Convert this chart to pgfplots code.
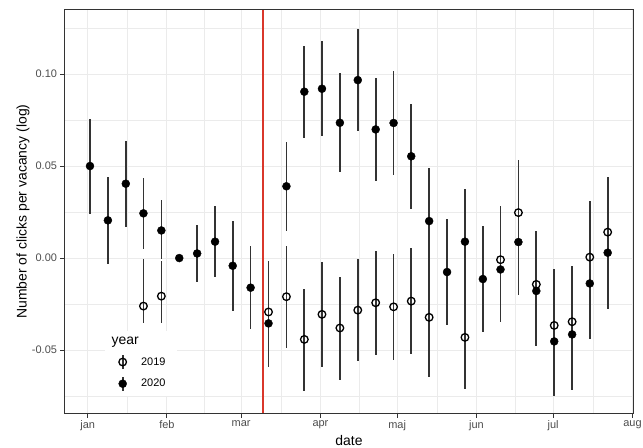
\documentclass[border=0pt]{standalone}
\usepackage{pgfplots}
\pgfplotsset{compat=1.18}
\usepackage{pgfplotstable}
\usepackage{fontspec}
\setmainfont{Liberation Sans}
\definecolor{gridgray}{HTML}{EBEBEB}
\definecolor{tickgray}{HTML}{4D4D4D}
\definecolor{framegray}{HTML}{333333}
\definecolor{vline}{HTML}{D9372B}

% 2020 series: day of year (0 = 1 Jan), estimate, lower, upper
\pgfplotstableread{
d y lo hi
0.9 0.0500 0.0240 0.0755
7.9 0.0205 -0.0031 0.0440
14.9 0.0404 0.0170 0.0636
21.8 0.0243 0.0047 0.0433
28.8 0.0150 -0.0007 0.0313
35.8 0.0000 0.0000 0.0000
42.8 0.0025 -0.0132 0.0179
49.8 0.0089 -0.0105 0.0283
56.7 -0.0042 -0.0286 0.0203
63.7 -0.0161 -0.0388 0.0065
70.7 -0.0355 -0.0591 -0.0120
77.7 0.0390 0.0147 0.0630
84.7 0.0904 0.0654 0.1154
91.6 0.0920 0.0665 0.1178
98.6 0.0735 0.0467 0.1004
105.6 0.0967 0.0690 0.1246
112.6 0.0699 0.0420 0.0978
119.6 0.0734 0.0453 0.1016
126.5 0.0553 0.0266 0.0837
133.5 0.0201 -0.0080 0.0487
140.5 -0.0076 -0.0366 0.0212
147.5 0.0089 -0.0200 0.0373
154.5 -0.0114 -0.0400 0.0174
161.4 -0.0062 -0.0350 0.0220
168.4 0.0087 -0.0200 0.0360
175.4 -0.0179 -0.0476 0.0100
182.4 -0.0453 -0.0752 -0.0160
189.4 -0.0415 -0.0717 -0.0120
196.3 -0.0138 -0.0442 0.0170
203.3 0.0029 -0.0279 0.0330
}\tblB

% 2019 series
\pgfplotstableread{
d y lo hi
21.8 -0.0261 -0.0355 -0.0007
28.8 -0.0207 -0.0355 -0.0016
70.7 -0.0293 -0.0550 -0.0016
77.7 -0.0210 -0.0491 0.0065
84.7 -0.0442 -0.0721 -0.0170
91.6 -0.0306 -0.0591 -0.0020
98.6 -0.0380 -0.0663 -0.0103
105.6 -0.0283 -0.0562 -0.0007
112.6 -0.0243 -0.0527 0.0038
119.6 -0.0265 -0.0554 0.0022
126.5 -0.0234 -0.0522 0.0053
133.5 -0.0322 -0.0644 -0.0040
147.5 -0.0431 -0.0714 -0.0150
161.4 -0.0009 -0.0300 0.0283
168.4 0.0247 -0.0040 0.0531
175.4 -0.0143 -0.0420 0.0145
182.4 -0.0366 -0.0660 -0.0060
189.4 -0.0346 -0.0640 -0.0043
196.3 0.0005 -0.0290 0.0311
203.3 0.0141 -0.0160 0.0440
}\tblA

\begin{document}
\begin{tikzpicture}
\path[use as bounding box] (-65bp,-35bp) rectangle (578bp,413bp);
\begin{axis}[
  at={(0,0)}, anchor=south west,
  scale only axis, width=568bp, height=403bp,
  xmin=-8.87, xmax=213.2, ymin=-0.0842, ymax=0.1348,
  xtick={0,31,60,91,121,152,182,213},
  xticklabels={jan,feb,mar,apr,maj,jun,jul,aug},
  minor xtick={15.5,45.5,75.5,106,136.5,167,197.5},
  ytick={-0.05,0,0.05,0.10},
  yticklabels={-0.05,0.00,0.05,0.10},
  minor ytick={-0.075,-0.025,0.025,0.075,0.125},
  grid=both,
  major grid style={gridgray, line width=1bp},
  minor grid style={gridgray, line width=0.5bp},
  axis line style={framegray, line width=1bp},
  tick align=outside, tick pos=left,
  major tick length=4.5bp, minor tick length=0pt,
  tick style={framegray, line width=1bp},
  every tick label/.append style={font=\fontsize{11}{13}\selectfont, text=tickgray},
  xlabel={date}, ylabel={Number of clicks per vacancy (log)},
  every axis x label/.style={at={(axis description cs:0.5,-0.0811)}, anchor=base, inner sep=0pt, font=\fontsize{14}{16}\selectfont},
  every axis y label/.style={at={(axis description cs:-0.0739,0.5)}, anchor=center, rotate=90, font=\fontsize{14}{16}\selectfont},
  clip=false,
  legend cell align=left,
  legend style={at={(axis description cs:0.0704,0.2035)}, anchor=north west,
    fill=white, draw=none, font=\fontsize{11}{13}\selectfont,
    row sep=6bp, inner xsep=9bp, inner ysep=4bp,
    /tikz/every odd column/.append style={column sep=12bp}},
]
\addplot[vline, line width=1.5bp, forget plot] coordinates {(68.6,-0.0842) (68.6,0.1348)};

\addplot[forget plot, only marks, mark=o, mark size=3.8bp, mark options={line width=1.3bp, draw=black, fill=none},
  error bars/.cd, y dir=both, y explicit, error mark=none,
  error bar style={black!80, line width=1.7bp}]
  table[x=d, y=y, y error plus expr=\thisrow{hi}-\thisrow{y}, y error minus expr=\thisrow{y}-\thisrow{lo}] {\tblA};

\addplot[forget plot, only marks, mark=*, mark size=4bp, mark options={draw=black, fill=black},
  error bars/.cd, y dir=both, y explicit, error mark=none,
  error bar style={black!80, line width=1.7bp}]
  table[x=d, y=y, y error plus expr=\thisrow{hi}-\thisrow{y}, y error minus expr=\thisrow{y}-\thisrow{lo}] {\tblB};

\addlegendimage{empty legend}
\addlegendentry{\hspace*{-29.5bp}\fontsize{14}{16}\selectfont year}
\addlegendimage{legend image code/.code={
  \draw[black!80, line width=1.7bp] (3mm,-7bp) -- (3mm,7bp);
  \draw[black, line width=1.3bp] (3mm,0bp) circle (3.8bp);}}
\addlegendentry{2019}
\addlegendimage{legend image code/.code={
  \draw[black!80, line width=1.7bp] (3mm,-7bp) -- (3mm,7bp);
  \fill[black] (3mm,0bp) circle (4bp);}}
\addlegendentry{2020}
\end{axis}
\end{tikzpicture}
\end{document}
